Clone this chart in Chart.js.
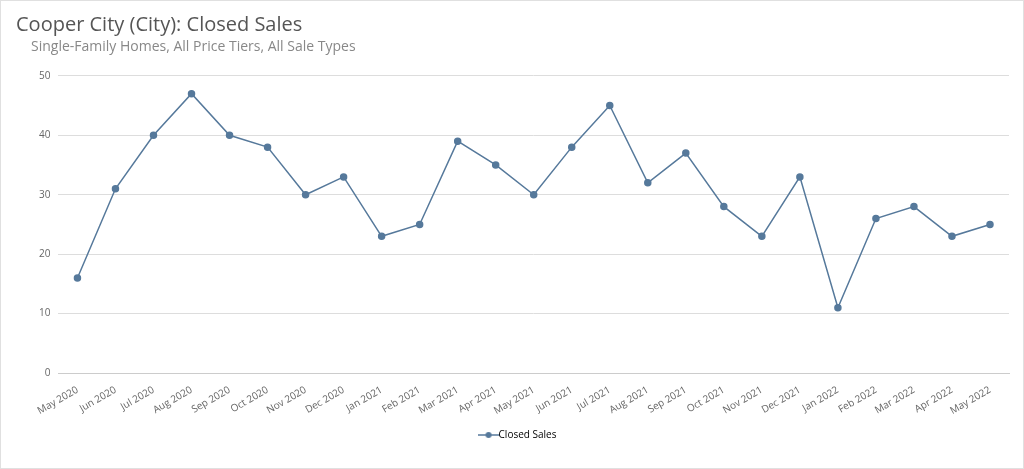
<!DOCTYPE html>
<html><head><meta charset="utf-8">
<script src="https://cdn.jsdelivr.net/npm/chart.js@4"></script>
<style>
html,body{margin:0;padding:0;background:#fff;}
#wrap{position:absolute;left:0;top:0;width:1022px;height:467px;border:1px solid #e0e0e0;}
</style></head><body>
<div id="wrap"><canvas id="c"></canvas></div>
<script>
const categories=["May 2020","Jun 2020","Jul 2020","Aug 2020","Sep 2020","Oct 2020","Nov 2020","Dec 2020","Jan 2021","Feb 2021","Mar 2021","Apr 2021","May 2021","Jun 2021","Jul 2021","Aug 2021","Sep 2021","Oct 2021","Nov 2021","Dec 2021","Jan 2022","Feb 2022","Mar 2022","Apr 2022","May 2022"];
const closedSales=[16,31,40,47,40,38,30,33,23,25,39,35,30,38,45,32,37,28,23,33,11,26,28,23,25];
const seriesName="Closed Sales";
const titleText="Cooper City (City): Closed Sales";
const subtitleText="Single-Family Homes, All Price Tiers, All Sale Types";
const color="#56799b";
const font="'Open Sans', 'Noto Sans', sans-serif";
const icon=document.createElement('canvas');icon.width=22;icon.height=8;
{const g=icon.getContext('2d');g.strokeStyle=color;g.fillStyle=color;g.lineWidth=1.5;g.beginPath();g.moveTo(0,4);g.lineTo(22,4);g.stroke();g.beginPath();g.arc(11,4,3,0,Math.PI*2);g.fill();}
new Chart(document.getElementById('c'),{
 type:'line',
 data:{labels:categories,datasets:[{label:seriesName,data:closedSales,borderColor:color,backgroundColor:color,borderWidth:1.5,pointRadius:3,pointHoverRadius:3,tension:0}]},
 options:{
  responsive:true,maintainAspectRatio:false,animation:false,
  layout:{padding:{left:30,right:14,top:6,bottom:18}},
  plugins:{
   title:{display:true,text:titleText,align:'start',color:'#555',font:{family:font,size:20,weight:'normal'},padding:{top:6,bottom:2}},
   subtitle:{display:true,text:subtitleText,align:'start',color:'#888',font:{family:font,size:14},padding:{bottom:20}},
   legend:{position:'bottom',labels:{usePointStyle:true,color:'#555',font:{family:font,size:10},generateLabels:(ch)=>[{text:seriesName,strokeStyle:color,fillStyle:color,lineWidth:0,pointStyle:icon,datasetIndex:0}]}},
   tooltip:{enabled:false}
  },
  scales:{
   x:{offset:true,grid:{display:false},border:{color:'#ccc'},ticks:{color:'#666',font:{family:font,size:10},maxRotation:30,minRotation:30,autoSkip:false}},
   y:{min:0,max:50,ticks:{stepSize:10,color:'#666',font:{family:font,size:10},padding:8},grid:{color:'#ddd',drawTicks:false},border:{display:false}}
  }
 },
 plugins:[{id:'shiftTitle',afterLayout(ch){['titleBlock','subtitleBlock'].forEach(k=>{const b=ch[k];if(b){b.left=15;}});}}]
});
</script></body></html>
